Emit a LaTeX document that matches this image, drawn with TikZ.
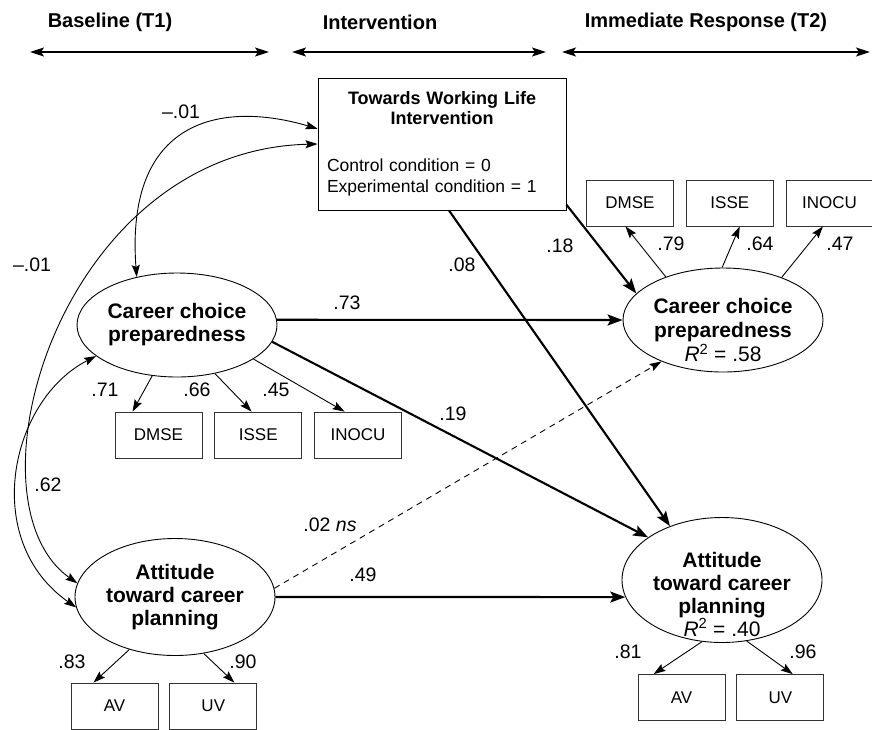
\documentclass[tikz,border=0pt]{standalone}
\usepackage{fontspec}
\setmainfont{Liberation Sans}
\usetikzlibrary{shapes.geometric,arrows.meta,positioning}

\begin{document}
\begin{tikzpicture}[
        x=1pt, y=-1pt,
        latent/.style={ellipse, draw=black, line width=0.9pt, minimum width=200pt, inner sep=0pt,
                       align=center, font=\fontsize{21}{23}\selectfont\bfseries},
        manifest/.style={rectangle, draw=black!80, line width=0.8pt, minimum width=87pt,
                         minimum height=46pt, inner sep=0pt, font=\fontsize{17}{20}\selectfont},
        intbox/.style={rectangle, draw=black, line width=0.9pt, minimum width=248pt, minimum height=132pt,
                       text width=230pt, inner sep=9pt, align=left, font=\fontsize{17.5}{21}\selectfont},
        header/.style={font=\fontsize{20}{24}\selectfont\bfseries},
        coef/.style={inner sep=0pt, font=\fontsize{19.5}{22}\selectfont},
        regpath/.style={-{Stealth[length=15pt, width=11pt, inset=3pt]}, line width=2.1pt},
        loading/.style={-{Stealth[length=12pt, width=8pt, inset=2pt]}, line width=0.9pt},
        covar/.style={{Stealth[length=12pt, width=8pt, inset=2pt]}-{Stealth[length=12pt, width=8pt, inset=2pt]}, line width=0.9pt},
        timespan/.style={{Stealth[length=14pt, width=9pt, inset=3pt]}-{Stealth[length=14pt, width=9pt, inset=3pt]}, line width=1.3pt}
    ]
        \useasboundingbox (0,0) rectangle (872,729);

        % time line
        \node[header] (hbase) at (110,22) {Baseline (T1)};
        \node[header] (hint) at (380,22) {Intervention};
        \node[header] (hresp) at (706,22) {Immediate Response (T2)};
        \coordinate (b1) at (30,52);  \coordinate (b2) at (269,52);
        \coordinate (i1) at (292,52); \coordinate (i2) at (546,52);
        \coordinate (r1) at (562,52); \coordinate (r2) at (870,52);
        \draw[timespan] (b1) -- (b2);
        \draw[timespan] (i1) -- (i2);
        \draw[timespan] (r1) -- (r2);

        % intervention
        \node[intbox] (interv) at (442,144) {{\centering\bfseries\fontsize{18}{20}\selectfont Towards Working Life\\ Intervention\par}
            \vspace{26pt}Control condition = 0\\ Experimental condition = 1};

        % T1 latents and indicators
        \node[latent, minimum height=104pt] (ccp1) at (177,325) {Career choice\\ preparedness};
        \node[latent, minimum height=117pt] (atcp1) at (175,597) {Attitude\\ toward career\\ planning};
        \node[manifest] (dmse1) at (158.5,435) {DMSE};
        \node[manifest, right=12pt of dmse1] (isse1) {ISSE};
        \node[manifest, right=12pt of isse1] (inocu1) {INOCU};
        \node[manifest] (av1) at (114.5,706) {AV};
        \node[manifest, right=11pt of av1] (uv1) {UV};

        % T2 latents and indicators (text sits low in the ellipse)
        \node[latent, minimum height=104pt, inner ysep=-15pt, font=\fontsize{21}{24}\selectfont\bfseries] (ccp2) at (723,320)
            {\rule{0pt}{36pt}Career choice\\ preparedness\\ {\mdseries\textit{R}\textsuperscript{2} = .58}};
        \node[latent, minimum height=125pt, inner ysep=-20pt] (atcp2) at (722,580)
            {\rule{0pt}{44pt}Attitude\\ toward career\\ planning\\ {\mdseries\textit{R}\textsuperscript{2} = .40}};
        \node[manifest] (dmse2) at (630,203) {DMSE};
        \node[manifest, right=12pt of dmse2] (isse2) {ISSE};
        \node[manifest, right=12pt of isse2] (inocu2) {INOCU};
        \node[manifest] (av2) at (681.5,697.5) {AV};
        \node[manifest, right=11pt of av2] (uv2) {UV};

        % loadings
        \draw[loading] (ccp1.244) -- (dmse1.138);
        \draw[loading] (ccp1.308) -- (isse1.106);
        \draw[loading] (ccp1.336) -- (inocu1.120);
        \draw[loading] (atcp1.229) -- (av1.132);
        \draw[loading] (atcp1.297) -- (uv1.48);
        \draw[loading] (ccp2.143) -- (dmse2.259);
        \draw[loading] (ccp2.91) -- (isse2.293);
        \draw[loading] (ccp2.36) -- (inocu2.254);
        \draw[loading] (atcp2.252) -- (av2.140);
        \draw[loading] (atcp2.292) -- (uv2.62);
        \node[coef] (l71) at (105,390) {.71};
        \node[coef] (l66) at (197,390) {.66};
        \node[coef] (l45) at (276,390) {.45};
        \node[coef] (l83) at (72,662) {.83};
        \node[coef] (l90) at (243,662) {.90};
        \node[coef] (l79) at (671,244) {.79};
        \node[coef] (l64) at (760,244) {.64};
        \node[coef] (l47) at (840,244) {.47};
        \node[coef] (l81) at (628,652) {.81};
        \node[coef] (l96) at (803,652) {.96};

        % correlations at baseline
        \draw[covar] (ccp1.130) .. controls (125,120) and (220,100) .. (interv.173);
        \draw[covar] (interv.180) .. controls (60,150) and (-40,500) .. (atcp1.172);
        \draw[covar] (ccp1.201) .. controls (10,400) and (-20,540) .. (atcp1.186);
        \node[coef] (c1) at (181,112) {--.01};
        \node[coef] (c2) at (32,265) {--.01};
        \node[coef] (c3) at (48,485) {.62};

        % structural paths
        \draw[regpath] (ccp1.3) -- (ccp2.west);
        \draw[regpath] (ccp1.350) -- (atcp2.150);
        \draw[regpath] (atcp1.east) -- (atcp2.190);
        \draw[regpath] (interv.276) -- (atcp2.134);
        \draw[regpath] (interv.334) -- (ccp2.163);
        \draw[loading, dash pattern=on 6pt off 5pt] (atcp1.5) -- (ccp2.214);
        \node[coef] (p73) at (347,303) {.73};
        \node[coef] (p19) at (453,414) {.19};
        \node[coef] (p49) at (363,575) {.49};
        \node[coef] (p08) at (462,265) {.08};
        \node[coef] (p18) at (560,246) {.18};
        \node[coef] (p02) at (330,525) {.02 \textit{ns}};
    \end{tikzpicture}
\end{document}
